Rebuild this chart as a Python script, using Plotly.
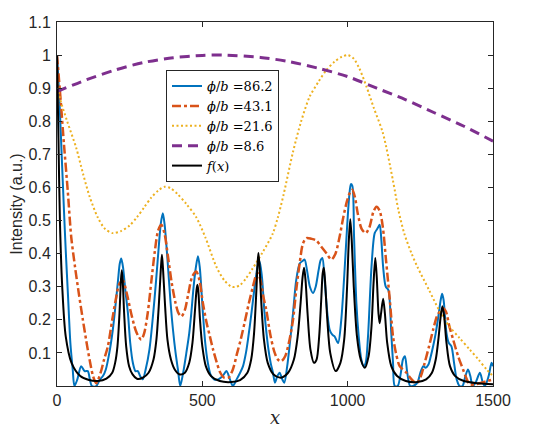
import plotly.graph_objects as go

# phi/b = 86.2 (blue, solid)
blue_x = [0, 8, 16, 24, 30, 38, 46, 54, 60, 70, 83, 95, 106, 113, 120, 135, 148, 158, 168, 180,
          192, 202, 210, 216, 221, 227, 235, 244, 252, 261, 270, 278, 286, 295, 305, 318, 330, 341,
          350, 357, 364, 370, 381, 390, 399, 408, 416, 424, 434, 445, 455, 462, 470, 478, 485, 491,
          502, 510, 519, 528, 540, 555, 570, 583, 595, 605, 618, 630, 640, 650, 657, 669, 680, 690,
          697, 705, 714, 726, 735, 743, 750, 758, 766, 775, 782, 792, 800, 812, 823, 835, 845, 852,
          860, 870, 881, 890, 900, 907, 913, 920, 930, 938, 947, 955, 967, 978, 988, 998, 1005, 1011,
          1016, 1022, 1030, 1038, 1047, 1055, 1062, 1070, 1082, 1093, 1102, 1110, 1116, 1122, 1131,
          1140, 1150, 1156, 1162, 1172, 1183, 1190, 1197, 1205, 1215, 1225, 1240, 1250, 1260, 1268,
          1278, 1286, 1294, 1303, 1312, 1320, 1325, 1330, 1340, 1348, 1357, 1366, 1375, 1385, 1395,
          1405, 1414, 1422, 1430, 1440, 1455, 1465, 1472, 1485, 1495, 1500]
blue_y = [1.0, 0.87, 0.70, 0.53, 0.41, 0.27, 0.13, 0.05, 0.0, 0.02, 0.06, 0.045, 0.045, 0.02, 0.0,
          0.0, 0.02, 0.03, 0.05, 0.10, 0.17, 0.25, 0.32, 0.37, 0.385, 0.36, 0.29, 0.22, 0.13, 0.07,
          0.045, 0.045, 0.03, 0.02, 0.05, 0.11, 0.21, 0.32, 0.42, 0.49, 0.522, 0.49, 0.372, 0.26,
          0.17, 0.10, 0.05, 0.0, 0.04, 0.10, 0.16, 0.22, 0.30, 0.36, 0.392, 0.36, 0.22, 0.13, 0.07,
          0.035, 0.02, 0.02, 0.03, 0.045, 0.02, 0.0, 0.02, 0.04, 0.06, 0.10, 0.14, 0.22, 0.30, 0.36,
          0.376, 0.33, 0.22, 0.12, 0.07, 0.04, 0.01, 0.03, 0.04, 0.02, 0.01, 0.06, 0.12, 0.22, 0.32,
          0.37, 0.378, 0.382, 0.35, 0.30, 0.281, 0.30, 0.35, 0.38, 0.387, 0.33, 0.22, 0.17, 0.155,
          0.15, 0.13, 0.20, 0.33, 0.48, 0.57, 0.61, 0.605, 0.45, 0.25, 0.15, 0.08, 0.06, 0.07, 0.15,
          0.36, 0.462, 0.475, 0.487, 0.44, 0.36, 0.30, 0.29, 0.16, 0.07, 0.0, 0.0, 0.04, 0.08, 0.09,
          0.04, 0.0, 0.0, 0.01, 0.04, 0.06, 0.055, 0.065, 0.09, 0.12, 0.16, 0.21, 0.26, 0.279, 0.26,
          0.16, 0.13, 0.12, 0.07, 0.02, 0.0, 0.0, 0.03, 0.05, 0.03, 0.0, 0.01, 0.04, 0.01, 0.0, 0.03,
          0.07, 0.06]

# phi/b = 43.1 (red, dash-dot)
red_x = [0, 12, 24, 37, 49, 62, 75, 89, 100, 112, 124, 135, 150, 162, 175, 190, 204, 215, 227, 240,
         255, 270, 280, 290, 300, 312, 325, 337, 348, 359, 370, 382, 395, 408, 418, 428, 440, 452,
         465, 479, 490, 502, 515, 526, 537, 550, 562, 575, 590, 605, 620, 632, 645, 660, 674, 685,
         691, 700, 710, 720, 735, 749, 760, 772, 785, 800, 812, 823, 835, 846, 858, 875, 892, 910,
         928, 944, 958, 972, 985, 998, 1008, 1016, 1025, 1035, 1048, 1062, 1075, 1088, 1099, 1110,
         1121, 1132, 1145, 1156, 1166, 1179, 1202, 1220, 1237, 1252, 1265, 1280, 1294, 1307, 1317,
         1328, 1338, 1350, 1363, 1380, 1397, 1410, 1420, 1440, 1460, 1480, 1500]
red_y = [1.0, 0.87, 0.73, 0.59, 0.45, 0.36, 0.28, 0.20, 0.14, 0.08, 0.03, 0.008, 0.04, 0.08, 0.12,
         0.20, 0.27, 0.31, 0.318, 0.28, 0.22, 0.17, 0.15, 0.14, 0.16, 0.22, 0.32, 0.41, 0.47, 0.487,
         0.46, 0.39, 0.31, 0.25, 0.22, 0.21, 0.23, 0.28, 0.33, 0.346, 0.32, 0.25, 0.19, 0.15, 0.11,
         0.07, 0.04, 0.025, 0.025, 0.05, 0.10, 0.14, 0.19, 0.25, 0.30, 0.335, 0.341, 0.32, 0.27,
         0.23, 0.15, 0.10, 0.08, 0.075, 0.09, 0.14, 0.20, 0.29, 0.372, 0.43, 0.447, 0.445, 0.44,
         0.42, 0.40, 0.382, 0.40, 0.45, 0.51, 0.56, 0.585, 0.593, 0.57, 0.52, 0.475, 0.462, 0.48,
         0.525, 0.542, 0.53, 0.48, 0.38, 0.26, 0.15, 0.10, 0.06, 0.04, 0.02, 0.008, 0.03, 0.07,
         0.12, 0.17, 0.21, 0.225, 0.235, 0.225, 0.18, 0.14, 0.09, 0.05, 0.02, 0.005, 0.005, 0.01,
         0.015, 0.02]

# phi/b = 21.6 (yellow, dotted)
yellow_x = [0, 10, 35, 66, 90, 112, 140, 165, 192, 220, 250, 275, 300, 325, 350, 370, 390, 415, 445,
            479, 510, 548, 575, 600, 611, 630, 650, 673, 708, 742, 760, 780, 811, 840, 869, 900, 927,
            955, 980, 1001, 1020, 1040, 1065, 1090, 1121, 1156, 1175, 1195, 1220, 1240, 1280, 1317,
            1350, 1385, 1420, 1450, 1478, 1500]
yellow_y = [0.93, 0.87, 0.80, 0.72, 0.64, 0.573, 0.51, 0.475, 0.462, 0.468, 0.485, 0.51, 0.54, 0.57,
            0.592, 0.602, 0.598, 0.58, 0.55, 0.51, 0.45, 0.361, 0.32, 0.30, 0.299, 0.305, 0.325,
            0.355, 0.405, 0.46, 0.51, 0.58, 0.704, 0.80, 0.874, 0.92, 0.955, 0.98, 0.995, 1.0, 0.99,
            0.96, 0.904, 0.84, 0.765, 0.62, 0.53, 0.46, 0.40, 0.36, 0.29, 0.225, 0.18, 0.145, 0.11,
            0.08, 0.05, 0.03]

# phi/b = 8.6 (purple, dashed)
purple_x = [0, 100, 200, 300, 400, 500, 570, 700, 800, 900, 1000, 1100, 1200, 1300, 1400, 1500]
purple_y = [0.89, 0.925, 0.955, 0.978, 0.992, 0.999, 1.0, 0.993, 0.98, 0.96, 0.935, 0.90, 0.865,
            0.825, 0.785, 0.74]

# f(x) (black, solid)
black_x = [0, 5, 10, 18, 30, 50, 80, 110, 140, 170, 190, 200, 208, 215, 220, 223, 226, 231, 238, 248,
           260, 275, 295, 315, 332, 342, 350, 357, 361, 365, 372, 380, 392, 405, 422, 440, 455, 466,
           474, 480, 483, 486, 492, 500, 512, 530, 560, 600, 630, 655, 668, 678, 686, 690, 693, 697,
           703, 712, 725, 745, 770, 795, 815, 828, 838, 845, 850, 855, 862, 872, 884, 893, 902, 909,
           914, 918, 922, 930, 940, 959, 975, 988, 998, 1004, 1009, 1014, 1021, 1032, 1045, 1059,
           1072, 1082, 1089, 1095, 1100, 1106, 1110, 1115, 1122, 1128, 1136, 1150, 1170, 1200, 1240,
           1270, 1290, 1303, 1312, 1320, 1326, 1332, 1340, 1352, 1370, 1400, 1450, 1500]
black_y = [1.0, 0.75, 0.50, 0.30, 0.15, 0.07, 0.03, 0.018, 0.015, 0.022, 0.04, 0.07, 0.12, 0.22, 0.32,
           0.35, 0.32, 0.22, 0.12, 0.06, 0.035, 0.022, 0.025, 0.04, 0.08, 0.14, 0.24, 0.35, 0.397,
           0.35, 0.24, 0.14, 0.08, 0.05, 0.035, 0.04, 0.07, 0.13, 0.22, 0.29, 0.306, 0.29, 0.20, 0.12,
           0.06, 0.03, 0.015, 0.012, 0.018, 0.04, 0.08, 0.16, 0.29, 0.37, 0.402, 0.36, 0.25, 0.14,
           0.07, 0.035, 0.025, 0.04, 0.08, 0.15, 0.25, 0.33, 0.357, 0.32, 0.22, 0.11, 0.07, 0.08,
           0.15, 0.26, 0.34, 0.357, 0.32, 0.20, 0.10, 0.045, 0.07, 0.14, 0.30, 0.44, 0.504, 0.44,
           0.30, 0.15, 0.08, 0.055, 0.09, 0.18, 0.31, 0.387, 0.33, 0.22, 0.19, 0.22, 0.264, 0.22,
           0.13, 0.06, 0.03, 0.015, 0.012, 0.02, 0.04, 0.08, 0.14, 0.21, 0.241, 0.21, 0.13, 0.06,
           0.03, 0.015, 0.008, 0.005]

x_ticks = [0, 500, 1000, 1500]
y_ticks = [0.1, 0.2, 0.3, 0.4, 0.5, 0.6, 0.7, 0.8, 0.9, 1.0, 1.1]
y_tick_text = ["0.1", "0.2", "0.3", "0.4", "0.5", "0.6", "0.7", "0.8", "0.9", "1", "1.1"]

series = [
    (blue_x, blue_y, "<i>ϕ</i>/<i>b</i> =86.2", "#0072BD", 2, "solid"),
    (red_x, red_y, "<i>ϕ</i>/<i>b</i> =43.1", "#D95319", 2.5, "dashdot"),
    (yellow_x, yellow_y, "<i>ϕ</i>/<i>b</i> =21.6", "#EDB120", 2, "2px,2.5px"),
    (purple_x, purple_y, "<i>ϕ</i>/<i>b</i> =8.6", "#7E2F8E", 3, "10px,6px"),
    (black_x, black_y, "<i>f</i>(<i>x</i>)", "#000000", 2, "solid"),
]

fig = go.Figure()
for xs, ys, name, color, width, dash in series:
    fig.add_trace(go.Scatter(
        x=xs, y=ys, name=name, mode="lines",
        line=dict(color=color, width=width, dash=dash, shape="spline", smoothing=0.8),
    ))

axis_style = dict(
    showline=True, linecolor="#262626", linewidth=1, mirror="ticks",
    ticks="inside", ticklen=5, tickcolor="#262626",
    showgrid=False, zeroline=False, automargin=False,
    tickfont=dict(family="Liberation Sans", size=16, color="#262626"),
)

# the page body has an 8px margin, so the figure is 8px smaller than the window
fig.update_layout(
    width=525, height=420,
    margin=dict(l=49, r=40, t=14, b=42),
    paper_bgcolor="white", plot_bgcolor="white",
    xaxis=dict(
        range=[0, 1500], tickvals=x_ticks,
        title=dict(text="<i>x</i>", standoff=6,
                   font=dict(family="DejaVu Serif", size=18, color="#262626")),
        **axis_style,
    ),
    yaxis=dict(
        range=[0, 1.1], tickvals=y_ticks, ticktext=y_tick_text,
        ticklabelstandoff=2,
        title=dict(text="Intensity (a.u.)", standoff=3,
                   font=dict(family="Liberation Sans", size=16, color="#262626")),
        **axis_style,
    ),
    legend=dict(
        x=0.25, y=0.868, xanchor="left", yanchor="top",
        bgcolor="white", bordercolor="#262626", borderwidth=1,
        font=dict(family="DejaVu Serif", size=13, color="#000000"),
        tracegroupgap=0,
    ),
)

fig.write_html("out.html")
